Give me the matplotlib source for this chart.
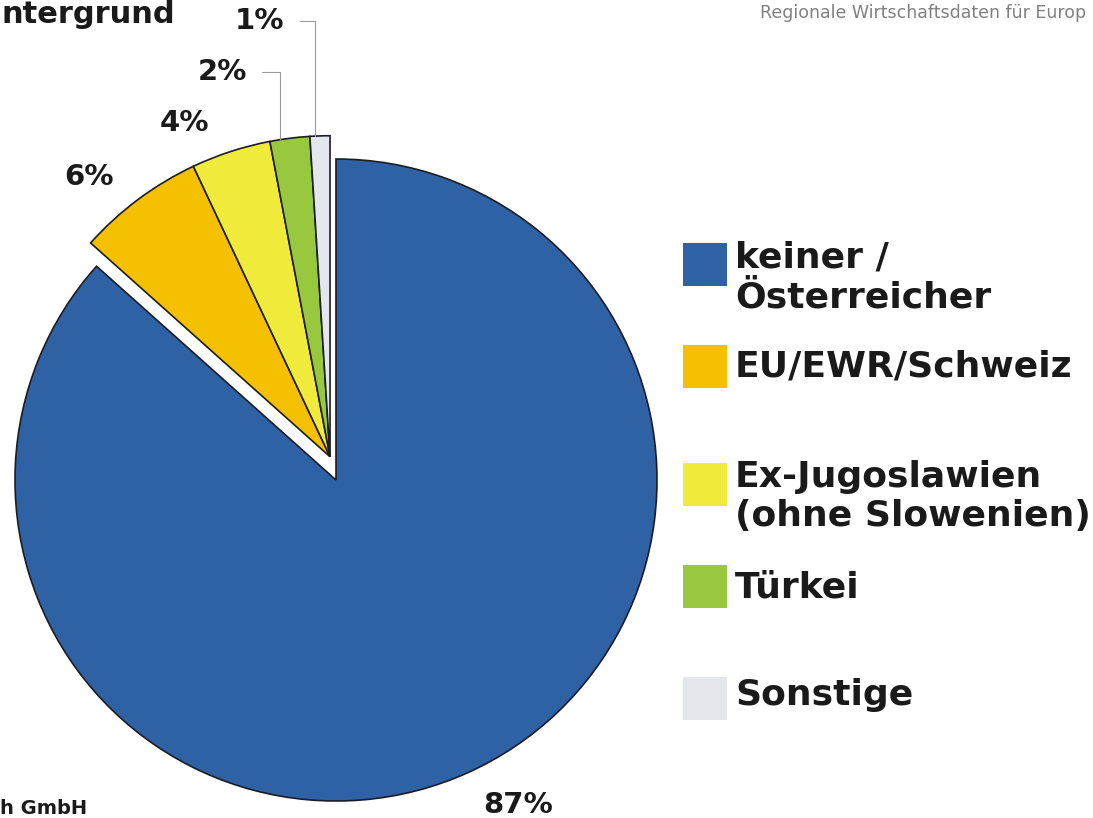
import numpy as np
import matplotlib
matplotlib.use('Agg')
import matplotlib.pyplot as plt
from matplotlib.patches import Rectangle

# Daten
kategorien = ['keiner /\nÖsterreicher', 'EU/EWR/Schweiz',
              'Ex-Jugoslawien\n(ohne Slowenien)', 'Türkei', 'Sonstige']
anteile = [86.6, 6.4, 4.0, 2.0, 1.0]
farben = ['#2F62A4', '#F4C000', '#F0EB3A', '#97C83D', '#E3E7EB']

W, H = 1093, 818
fig = plt.figure(figsize=(W / 100, H / 100), dpi=100)
ax = fig.add_axes([0, 0, 1, 1])

# Kreisdiagramm (Pixelkoordinaten, y nach oben)
mitte = (336, H - 480)
radius = 321
wedges, _ = ax.pie(anteile, colors=farben, startangle=90, counterclock=False,
                   radius=radius, center=mitte,
                   wedgeprops=dict(edgecolor='#1c1c24', linewidth=1.2))

# kleine Segmente gemeinsam herausziehen
klein = wedges[1:]
mitte_winkel = (klein[0].theta1 + klein[-1].theta2) / 2
versatz = 24
dx = versatz * np.cos(np.radians(mitte_winkel))
dy = versatz * np.sin(np.radians(mitte_winkel))
for w in klein:
    w.set_center((mitte[0] + dx, mitte[1] + dy))

ax.set_xlim(0, W)
ax.set_ylim(0, H)
ax.set_aspect('equal')
ax.axis('off')

# Prozentbeschriftungen
txt = dict(fontsize=21, fontweight='bold', color='#1a1a1a', ha='center', va='center')
ax.text(518, H - 805, f'{anteile[0]:.0f}%', **txt)
ax.text(89, H - 177, f'{anteile[1]:.0f}%', **txt)
ax.text(184, H - 123, f'{anteile[2]:.0f}%', **txt)

# Beschriftungen mit Führungslinien
for w, wert, pos in [(wedges[3], anteile[3], (222, H - 72)),
                     (wedges[4], anteile[4], (260, H - 21))]:
    theta = np.radians(w.theta1 + 0.75 * (w.theta2 - w.theta1))
    cx, cy = w.center
    punkt = (cx + w.r * np.cos(theta), cy + w.r * np.sin(theta))
    ax.annotate(f'{wert:.0f}%', xy=punkt, xytext=pos, **txt,
                arrowprops=dict(arrowstyle='-', color='#999999', lw=0.8,
                                connectionstyle='angle,angleA=0,angleB=90,rad=0',
                                relpos=(1, 0.5), shrinkA=9, shrinkB=0))

# Legende (Grundlinie der letzten Zeile)
kasten_oben = [243, 345, 463, 565, 677]
text_basis = [307, 377, 526, 597, 705]
for farbe, name, oben, basis in zip(farben, kategorien, kasten_oben, text_basis):
    ax.add_patch(Rectangle((683, H - oben - 43), 44, 43, facecolor=farbe, edgecolor='none'))
    ax.text(735, H - basis, name, fontsize=26, fontweight='bold', color='#1a1a1a',
            ha='left', va='baseline', linespacing=1.2)

# Randtexte (abgeschnitten wie im Original)
ax.text(2, H, 'ntergrund', fontsize=22, fontweight='bold', color='#1a1a1a',
        ha='left', va='top')
ax.text(760, H - 18, 'Regionale Wirtschaftsdaten für Europ', fontsize=12.5,
        color='#808080', ha='left', va='baseline')
ax.text(0, 0, 'h GmbH', fontsize=14, fontweight='bold', color='#1a1a1a',
        ha='left', va='bottom')

fig.savefig('out.png', dpi=100)
